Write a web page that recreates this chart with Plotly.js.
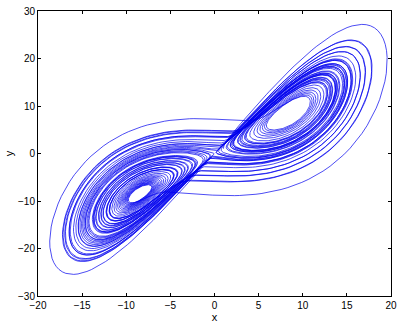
<!DOCTYPE html>
<html><head><meta charset="utf-8">
<script src="https://cdn.plot.ly/plotly-3.0.1.min.js"></script>
<style>html,body{margin:0;padding:0;background:#fff}#c{width:402px;height:323px}</style>
</head><body><div id="c"></div>
<script>
// Trajectory of the Lorenz system (sigma=10, rho=28, beta=8/3), projected onto x-y
var xTicks = [-20,-15,-10,-5,0,5,10,15,20];
var yTicks = [-30,-20,-10,0,10,20,30];
var xs = [], ys = [];
(function(){
  var s=10, r=28, b=8/3, dt=0.005, n=14000;
  var p=[1,1,1];
  function f(q){return [s*(q[1]-q[0]), q[0]*(r-q[2])-q[1], q[0]*q[1]-b*q[2]];}
  for(var i=0;i<n;i++){
    xs.push(p[0]); ys.push(p[1]);
    var k1=f(p);
    var k2=f([p[0]+dt/2*k1[0],p[1]+dt/2*k1[1],p[2]+dt/2*k1[2]]);
    var k3=f([p[0]+dt/2*k2[0],p[1]+dt/2*k2[1],p[2]+dt/2*k2[2]]);
    var k4=f([p[0]+dt*k3[0],p[1]+dt*k3[1],p[2]+dt*k3[2]]);
    for(var j=0;j<3;j++) p[j]+=dt/6*(k1[j]+2*k2[j]+2*k3[j]+k4[j]);
  }
})();
var fontFam = '"Liberation Sans", Arial, sans-serif';
Plotly.newPlot('c', [{
  x: xs, y: ys, type: 'scatter', mode: 'lines',
  line: {color: '#0000ee', width: 0.7}, hoverinfo: 'skip'
}], {
  width: 402, height: 323,
  margin: {l: 38, r: 11, t: 11, b: 27},
  paper_bgcolor: '#fff', plot_bgcolor: '#fff',
  showlegend: false,
  font: {family: fontFam, size: 10, color: '#000'},
  xaxis: {range: [-20, 20], tickvals: xTicks, ticks: 'inside', ticklen: 3, tickcolor: '#000',
    showline: true, linecolor: '#000', linewidth: 1, mirror: 'ticks', showgrid: false, zeroline: false,
    title: {text: 'x', standoff: 0, font: {size: 11}}, tickfont: {size: 10}},
  yaxis: {range: [-30, 30], tickvals: yTicks, ticks: 'inside', ticklen: 3, tickcolor: '#000',
    showline: true, linecolor: '#000', linewidth: 1, mirror: 'ticks', showgrid: false, zeroline: false,
    title: {text: 'y', standoff: 2, font: {size: 11}}, tickfont: {size: 10}}
}, {staticPlot: true});
</script></body></html>
